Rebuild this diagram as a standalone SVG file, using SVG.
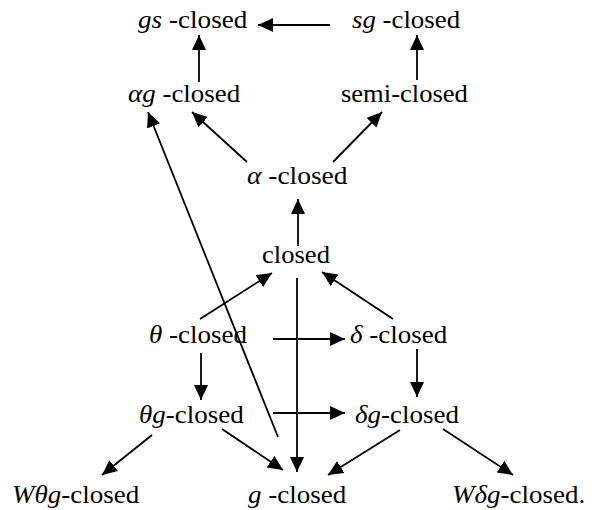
<svg xmlns="http://www.w3.org/2000/svg" width="595" height="510" viewBox="0 0 595 510">
<rect width="595" height="510" fill="#fff"/>
<g id="n-gs"><text font-family="Liberation Serif" font-size="30" transform="translate(138,28) scale(0.905,0.817)"><tspan font-style="italic">gs</tspan> -closed</text></g>
<g id="n-sg"><text font-family="Liberation Serif" font-size="30" transform="translate(352,28) scale(0.895,0.817)"><tspan font-style="italic">sg</tspan> -closed</text></g>
<g id="n-ag"><text font-family="Liberation Serif" font-size="30" transform="translate(128,102) scale(0.9,0.817)"><tspan font-style="italic">αg</tspan> -closed</text></g>
<g id="n-semi"><text font-family="Liberation Serif" font-size="30" transform="translate(341,102) scale(0.886,0.817)">semi-closed</text></g>
<g id="n-alpha"><text font-family="Liberation Serif" font-size="30" transform="translate(247,184) scale(0.915,0.817)"><tspan font-style="italic">α</tspan> -closed</text></g>
<g id="n-closed"><text font-family="Liberation Serif" font-size="30" transform="translate(262,263) scale(0.887,0.817)">closed</text></g>
<g id="n-theta"><text font-family="Liberation Serif" font-size="30" transform="translate(149,343) scale(0.9,0.817)"><tspan font-style="italic">θ</tspan> -closed</text></g>
<g id="n-delta"><text font-family="Liberation Serif" font-size="30" transform="translate(350,343) scale(0.9,0.817)"><tspan font-style="italic">δ</tspan> -closed</text></g>
<g id="n-thetag"><text font-family="Liberation Serif" font-size="30" transform="translate(139,423) scale(0.9,0.817)"><tspan font-style="italic">θg</tspan>-closed</text></g>
<g id="n-deltag"><text font-family="Liberation Serif" font-size="30" transform="translate(355,423) scale(0.9,0.817)"><tspan font-style="italic">δg</tspan>-closed</text></g>
<g id="n-wthetag"><text font-family="Liberation Serif" font-size="30" transform="translate(12,503) scale(0.9,0.817)"><tspan font-style="italic">Wθg</tspan>-closed</text></g>
<g id="n-g"><text font-family="Liberation Serif" font-size="30" transform="translate(248,503) scale(0.9,0.817)"><tspan font-style="italic">g</tspan> -closed</text></g>
<g id="n-wdeltag"><text font-family="Liberation Serif" font-size="30" transform="translate(452,503) scale(0.9,0.817)"><tspan font-style="italic">Wδg</tspan>-closed.</text></g>
<defs>
<marker id="ah" markerUnits="userSpaceOnUse" markerWidth="16" markerHeight="15" refX="15" refY="7" orient="auto">
<path d="M0,0 L15,7 L0,14 z" fill="#000"/>
</marker>
</defs>
<g id="connectors" stroke="#000" stroke-width="1.8" fill="none">
<line x1="330" y1="25" x2="258" y2="25" marker-end="url(#ah)"/>
<line x1="199" y1="82" x2="199" y2="35" marker-end="url(#ah)"/>
<line x1="417" y1="80" x2="417" y2="35" marker-end="url(#ah)"/>
<line x1="247" y1="162" x2="192" y2="112" marker-end="url(#ah)"/>
<line x1="333" y1="162" x2="382" y2="112" marker-end="url(#ah)"/>
<line x1="278" y1="437" x2="148" y2="112" marker-end="url(#ah)"/>
<line x1="298" y1="246" x2="298" y2="199" marker-end="url(#ah)"/>
<line x1="200" y1="319" x2="272" y2="273" marker-end="url(#ah)"/>
<line x1="393" y1="319" x2="322" y2="272" marker-end="url(#ah)"/>
<line x1="297" y1="278" x2="297" y2="472" marker-end="url(#ah)"/>
<line x1="273" y1="339" x2="345" y2="339" marker-end="url(#ah)"/>
<line x1="273" y1="413" x2="345" y2="413" marker-end="url(#ah)"/>
<line x1="201" y1="353" x2="201" y2="400" marker-end="url(#ah)"/>
<line x1="417" y1="349" x2="417" y2="397" marker-end="url(#ah)"/>
<line x1="152" y1="435" x2="102" y2="475" marker-end="url(#ah)"/>
<line x1="222" y1="429" x2="283" y2="470" marker-end="url(#ah)"/>
<line x1="400" y1="430" x2="328" y2="475" marker-end="url(#ah)"/>
<line x1="443" y1="429" x2="513" y2="475" marker-end="url(#ah)"/>
</g>
</svg>
